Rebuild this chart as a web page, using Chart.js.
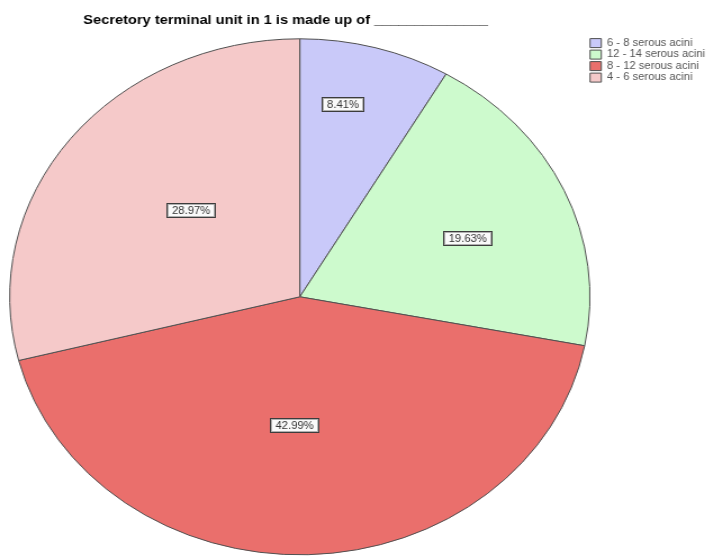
<!DOCTYPE html>
<html>
<head>
<meta charset="utf-8">
<script src="https://cdn.jsdelivr.net/npm/chart.js@4/dist/chart.umd.min.js"></script>
<style>
  html, body { margin: 0; padding: 0; background: #fff; overflow: hidden; }
  /* the reference pie is slightly wider than tall, so stretch the canvas a bit */
  #wrap { width: 643px; height: 557px; transform: scaleX(1.1245); transform-origin: 0 0; }
</style>
</head>
<body>
<div id="wrap"><canvas id="pieChart" width="643" height="557"></canvas></div>
<script>
// trailing spaces nudge the centred title a little to the left, as in the original
const titleText = "Secretory terminal unit in 1 is made up of ______________" + "\u00a0".repeat(7);
const categories = ["6 - 8 serous acini", "12 - 14 serous acini", "8 - 12 serous acini", "4 - 6 serous acini"];
const percents = [8.41, 19.63, 42.99, 28.97];
const sliceColors = ["#c9c9f9", "#cdfacd", "#ea6f6c", "#f5c9c9"];
// where each percentage box sits: share of the slice's sweep, share of the radius
const labelSweep = [0.37, 0.545, 0.525, 0.535];
const labelDepth = [0.756, 0.62, 0.5, 0.502];

const boxedLabels = {
  id: "boxedLabels",
  afterDatasetsDraw(chart) {
    const ctx = chart.ctx;
    const meta = chart.getDatasetMeta(0);
    ctx.save();
    ctx.font = "10px 'Liberation Sans', Arial, sans-serif";
    ctx.textAlign = "center";
    ctx.textBaseline = "middle";
    meta.data.forEach((arc, i) => {
      const ang = arc.startAngle + (arc.endAngle - arc.startAngle) * labelSweep[i];
      const r = arc.outerRadius * labelDepth[i];
      const x = Math.round(arc.x + Math.cos(ang) * r);
      const y = Math.round(arc.y + Math.sin(ang) * r);
      const text = percents[i].toFixed(2) + "%";
      const w = Math.round(ctx.measureText(text).width + 10);
      const h = 15;
      const left = x - Math.round(w / 2);
      const top = y - Math.round(h / 2);
      ctx.fillStyle = "#fafafa";
      ctx.fillRect(left, top, w, h);
      ctx.lineWidth = 1;
      ctx.strokeStyle = "#3c3c3c";
      ctx.strokeRect(left + 0.5, top + 0.5, w - 1, h - 1);
      ctx.strokeStyle = "#b0b0b0";
      ctx.strokeRect(left + 1.5, top + 1.5, w - 3, h - 3);
      ctx.fillStyle = "#333";
      ctx.fillText(text, x, y + 0.5);
    });
    ctx.restore();
  }
};

new Chart(document.getElementById("pieChart"), {
  type: "pie",
  data: {
    labels: categories,
    datasets: [{
      data: percents,
      backgroundColor: sliceColors,
      borderColor: "#505050",
      borderWidth: 1,
      radius: 258,
      hoverOffset: 0
    }]
  },
  options: {
    responsive: false,
    animation: false,
    devicePixelRatio: 1,
    layout: { padding: { left: 10, right: 6, top: 0, bottom: 0 } },
    plugins: {
      title: {
        display: true,
        text: titleText,
        fullSize: false,
        color: "#000",
        font: { family: "'Liberation Sans', Arial, sans-serif", size: 13, weight: "bold" },
        padding: { top: 13, bottom: 8 }
      },
      legend: {
        position: "right",
        align: "start",
        fullSize: false,
        labels: {
          boxWidth: 10,
          boxHeight: 9,
          padding: 1.5,
          color: "#555",
          font: { family: "'Liberation Sans', Arial, sans-serif", size: 10 }
        }
      },
      tooltip: { enabled: false }
    }
  },
  plugins: [boxedLabels]
});
</script>
</body>
</html>
